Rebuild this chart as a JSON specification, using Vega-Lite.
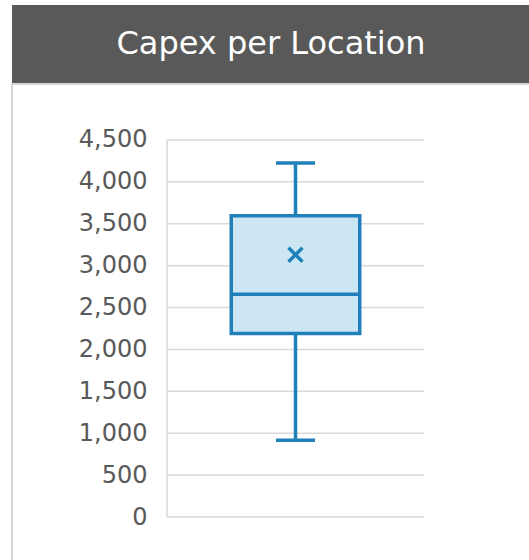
{
  "$schema": "https://vega.github.io/schema/vega-lite/v6.json",
  "background": "white",
  "padding": {"left": 11, "top": 5, "right": 0, "bottom": 0},
  "spacing": 0,
  "datasets": {
    "titleRow": [{"label": "Capex per Location"}],
    "stats": [{"group": "Capex per Location", "min": 915, "q1": 2190, "median": 2660, "q3": 3595, "max": 4225, "mean": 3130}],
    "grid": [{"v": 0}, {"v": 500}, {"v": 1000}, {"v": 1500}, {"v": 2000}, {"v": 2500}, {"v": 3000}, {"v": 3500}, {"v": 4000}, {"v": 4500}]
  },
  "vconcat": [
    {
      "width": 518,
      "height": 78,
      "view": {"fill": "#595959", "stroke": null},
      "data": {"name": "titleRow"},
      "mark": {"type": "text", "font": "DejaVu Sans", "fontSize": 32, "color": "white", "baseline": "middle", "align": "center"},
      "encoding": {"text": {"field": "label", "type": "nominal"}}
    },
    {
      "width": 518,
      "height": 477,
      "view": {"stroke": "#c8c8c8", "strokeWidth": 1.5},
      "layer": [
        {
          "data": {"name": "grid"},
          "mark": {"type": "tick", "size": 257, "thickness": 1.5, "color": "#d9d9d9", "opacity": 1},
          "encoding": {
            "x": {"datum": "Capex per Location", "type": "nominal", "axis": null,
                  "scale": {"paddingInner": 0, "paddingOuter": 0.50778, "align": 0.59387}},
            "y": {"field": "v", "type": "quantitative", "title": null,
                  "scale": {"domain": [-525, 5168], "nice": false, "zero": false},
                  "axis": {"title": null, "orient": "left", "offset": -155, "domain": false, "ticks": false, "tickSize": 0, "grid": false,
                           "values": [0, 500, 1000, 1500, 2000, 2500, 3000, 3500, 4000, 4500], "format": ",.0f",
                           "labelPadding": 20, "labelFont": "DejaVu Sans", "labelFontSize": 24, "labelColor": "#595959"}}
          }
        },
        {
          "data": {"name": "stats"},
          "mark": {"type": "rule", "color": "#d9d9d9", "strokeWidth": 1.5},
          "encoding": {
            "x": {"field": "group", "type": "nominal", "bandPosition": 0},
            "y": {"datum": 0, "type": "quantitative", "title": null},
            "y2": {"datum": 4500}
          }
        },
        {
          "data": {"name": "stats"},
          "mark": {"type": "rule", "color": "#2080ba", "strokeWidth": 3.5},
          "encoding": {
            "x": {"field": "group", "type": "nominal"},
            "y": {"field": "min", "type": "quantitative", "title": null},
            "y2": {"field": "max"}
          }
        },
        {
          "data": {"name": "stats"},
          "mark": {"type": "bar", "width": {"band": 0.5}, "fill": "#cde6f4", "stroke": "#2080ba", "strokeWidth": 3.5, "opacity": 1},
          "encoding": {
            "x": {"field": "group", "type": "nominal"},
            "y": {"field": "q1", "type": "quantitative", "title": null},
            "y2": {"field": "q3"}
          }
        },
        {
          "data": {"name": "stats"},
          "mark": {"type": "tick", "size": 128, "thickness": 3.5, "color": "#2080ba", "opacity": 1},
          "encoding": {
            "x": {"field": "group", "type": "nominal"},
            "y": {"field": "median", "type": "quantitative", "title": null}
          }
        },
        {
          "data": {"name": "stats"},
          "mark": {"type": "tick", "size": 39, "thickness": 3.5, "color": "#2080ba", "opacity": 1},
          "encoding": {
            "x": {"field": "group", "type": "nominal"},
            "y": {"field": "min", "type": "quantitative", "title": null}
          }
        },
        {
          "data": {"name": "stats"},
          "mark": {"type": "tick", "size": 39, "thickness": 3.5, "color": "#2080ba", "opacity": 1},
          "encoding": {
            "x": {"field": "group", "type": "nominal"},
            "y": {"field": "max", "type": "quantitative", "title": null}
          }
        },
        {
          "data": {"name": "stats"},
          "mark": {"type": "point", "shape": "M-1,-1L1,1M-1,1L1,-1", "size": 196, "filled": false, "strokeWidth": 3.5, "color": "#2080ba", "opacity": 1},
          "encoding": {
            "x": {"field": "group", "type": "nominal"},
            "y": {"field": "mean", "type": "quantitative", "title": null}
          }
        }
      ]
    }
  ]
}
